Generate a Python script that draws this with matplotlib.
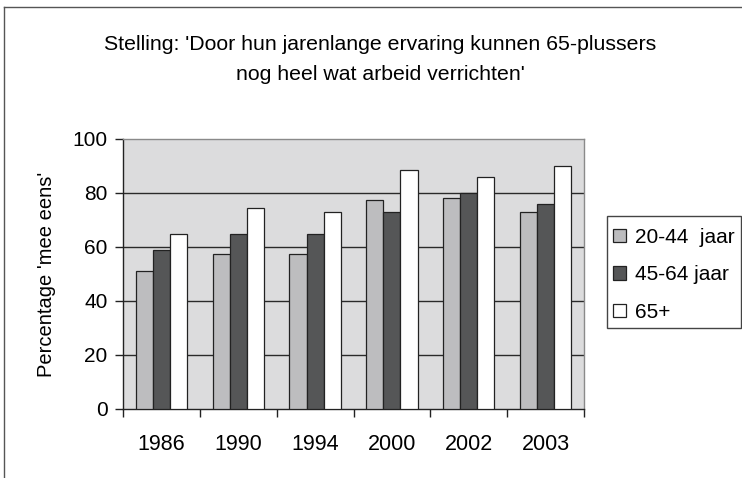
import matplotlib.pyplot as plt
import matplotlib.patches as mpatches
from matplotlib.lines import Line2D
import numpy as np

plt.rcParams["font.family"] = ["Liberation Sans", "DejaVu Sans"]

# Data
years = ["1986", "1990", "1994", "2000", "2002", "2003"]
age_20_44 = [51, 57.5, 57.5, 77.5, 78, 73]
age_45_64 = [59, 65, 65, 73, 80, 76]
age_65_plus = [65, 74.5, 73, 88.5, 86, 90]
series_labels = ["20-44  jaar", "45-64 jaar", "65+"]
colors = ["#bdbdbf", "#555657", "#ffffff"]

fig = plt.figure(figsize=(7.42, 4.78), dpi=100)
ax = fig.add_axes([123 / 742, 1 - 409 / 478, 461 / 742, 270 / 478])
ax.set_facecolor("#dcdcdd")

x = np.arange(len(years))
w = 0.222
for i, (vals, col) in enumerate(zip([age_20_44, age_45_64, age_65_plus], colors)):
    ax.bar(x + (i - 1) * w, vals, width=w, color=col, edgecolor="#222222",
           linewidth=0.9, zorder=3, label=series_labels[i])

ax.set_xlim(-0.5, len(years) - 0.5)
ax.set_ylim(0, 100)
ax.set_yticks([0, 20, 40, 60, 80, 100])
ax.set_xticks(x)
ax.set_xticklabels(years)
ax.set_xticks(np.arange(-0.5, len(years)), minor=True)
ax.tick_params(axis="x", which="major", length=0, pad=18, labelsize=15.5)
ax.tick_params(axis="x", which="minor", length=6, width=1, color="#222222")
ax.tick_params(axis="y", length=6, width=1, color="#222222", pad=5, labelsize=15)

for yv in [20, 40, 60, 80]:
    ax.axhline(yv, color="#2a2a2a", linewidth=1, zorder=1)

ax.spines["left"].set_color("#222222")
ax.spines["bottom"].set_color("#222222")
ax.spines["top"].set_color("#8a8a8a")
ax.spines["right"].set_color("#8a8a8a")
for s in ax.spines.values():
    s.set_linewidth(1)

ax.set_ylabel("Percentage 'mee eens'", fontsize=14.5, labelpad=12)

# Title
fig.text(380 / 742, 1 - 44 / 478, "Stelling: 'Door hun jarenlange ervaring kunnen 65-plussers",
         ha="center", va="center", fontsize=15.3)
fig.text(380 / 742, 1 - 74 / 478, "nog heel wat arbeid verrichten'",
         ha="center", va="center", fontsize=15.3)

# Outer chart border (cropped)
fig.add_artist(Line2D([4 / 742, 1], [1 - 7 / 478, 1 - 7 / 478], color="#555555", lw=1))
fig.add_artist(Line2D([4 / 742, 4 / 742], [0, 1 - 7 / 478], color="#555555", lw=1))

# Legend box drawn separately so it fits the right edge
fig.add_artist(mpatches.Rectangle((607 / 742, 1 - 328 / 478), 134 / 742, 112 / 478,
                                  transform=fig.transFigure, facecolor="white",
                                  edgecolor="#444444", linewidth=1))
handles = [mpatches.Patch(facecolor=c, edgecolor="#222222", linewidth=0.9) for c in colors]
leg = fig.legend(handles, series_labels, loc="upper left",
                 bbox_to_anchor=(613 / 742, 1 - 228 / 478), fontsize=15,
                 frameon=False, handlelength=0.6, handleheight=0.6, handletextpad=0.45,
                 labelspacing=0.88, borderpad=0, borderaxespad=0)

fig.savefig("out.png", dpi=100)
